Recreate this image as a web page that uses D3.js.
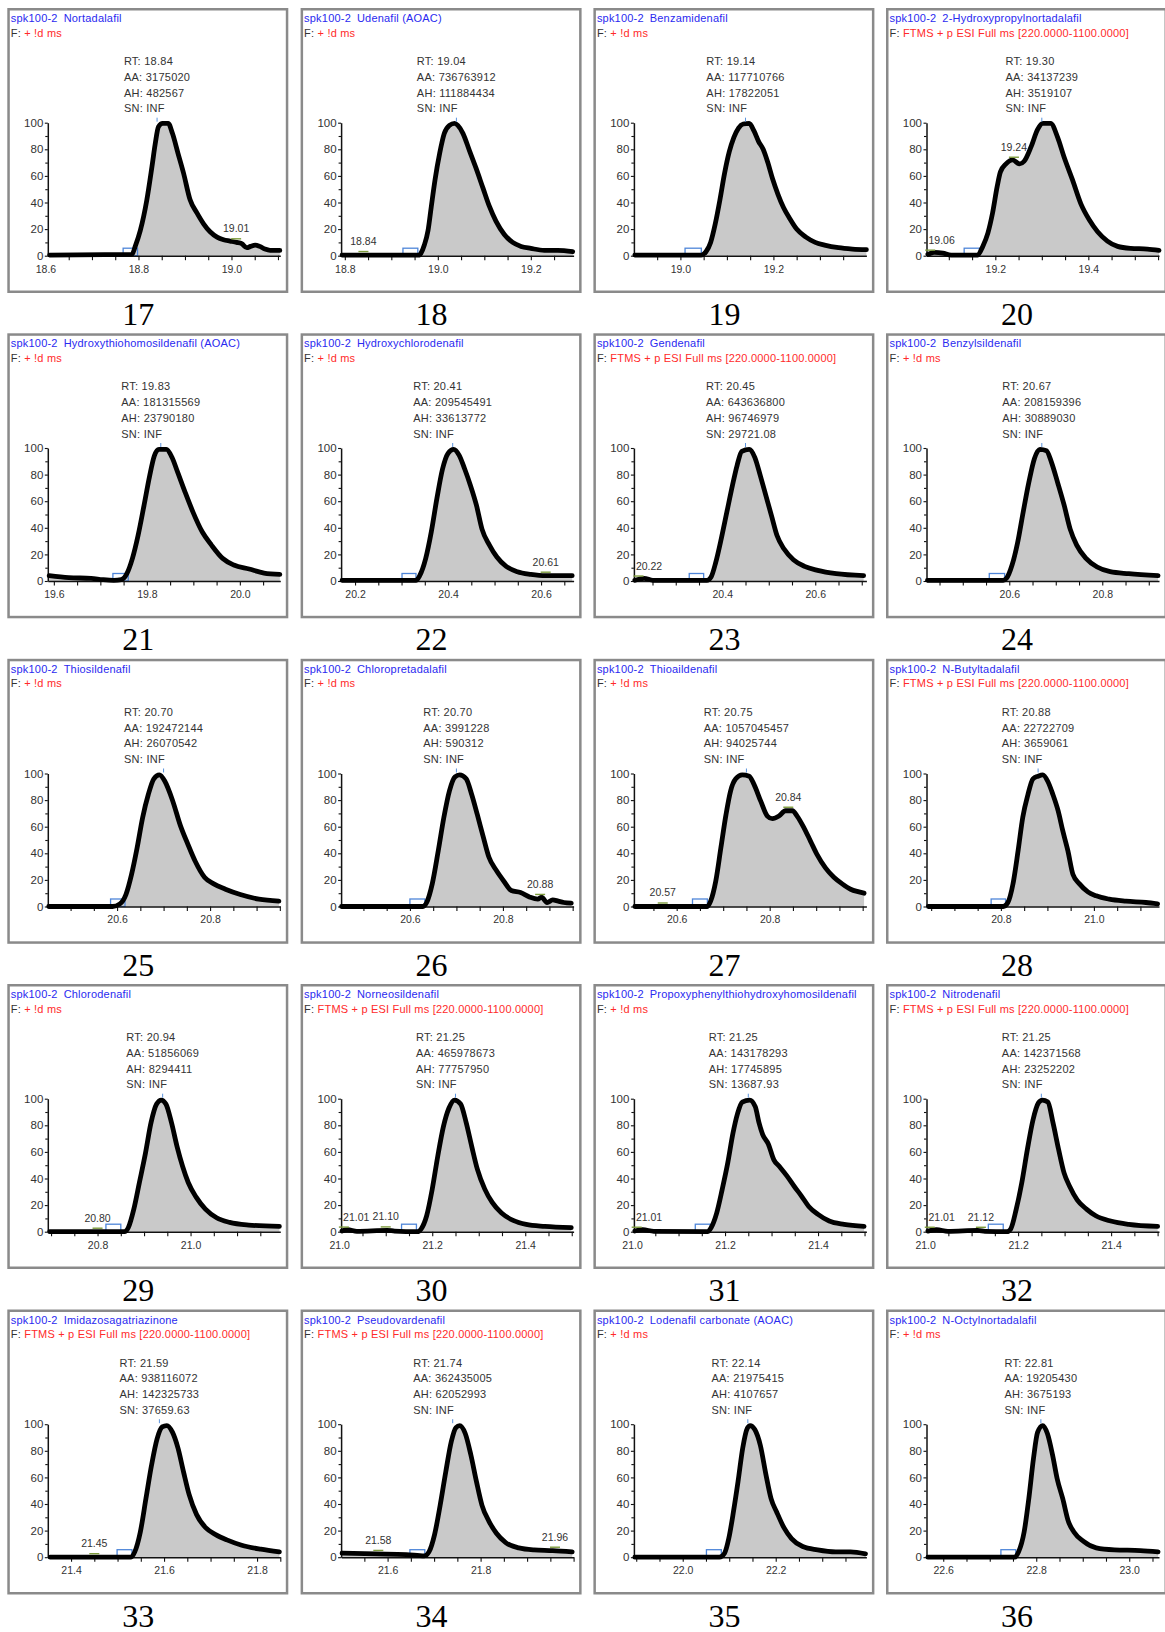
<!DOCTYPE html>
<html>
<head>
<meta charset="utf-8">
<script src="https://cdn.jsdelivr.net/npm/d3@7"></script>
<style>
  body { margin: 0; background: #fff; }
  svg { display: block; }
</style>
</head>
<body>
<svg id="chart" width="1165" height="1632"></svg>
<script>
// ---- panel metadata -------------------------------------------------------
const panelIds = [17,18,19,20,21,22,23,24,25,26,27,28,29,30,31,32,33,34,35,36];
const sampleName = "spk100-2";
const compounds = [
  "Nortadalafil", "Udenafil (AOAC)", "Benzamidenafil", "2-Hydroxypropylnortadalafil",
  "Hydroxythiohomosildenafil (AOAC)", "Hydroxychlorodenafil", "Gendenafil", "Benzylsildenafil",
  "Thiosildenafil", "Chloropretadalafil", "Thioaildenafil", "N-Butyltadalafil",
  "Chlorodenafil", "Norneosildenafil", "Propoxyphenylthiohydroxyhomosildenafil", "Nitrodenafil",
  "Imidazosagatriazinone", "Pseudovardenafil", "Lodenafil carbonate (AOAC)", "N-Octylnortadalafil"
];
const FT = "FTMS + p ESI Full ms [220.0000-1100.0000]";
const LD = "+ !d ms";
const scanFilters = [LD, LD, LD, FT, LD, LD, FT, LD, LD, LD, LD, FT, LD, FT, LD, FT, FT, FT, LD, LD];

// peak statistics
const rtValues = ["18.84","19.04","19.14","19.30","19.83","20.41","20.45","20.67","20.70","20.70",
                  "20.75","20.88","20.94","21.25","21.25","21.25","21.59","21.74","22.14","22.81"];
const aaValues = ["3175020","736763912","117710766","34137239","181315569","209545491","643636800",
                  "208159396","192472144","3991228","1057045457","22722709","51856069","465978673",
                  "143178293","142371568","938116072","362435005","21975415","19205430"];
const ahValues = ["482567","111884434","17822051","3519107","23790180","33613772","96746979",
                  "30889030","26070542","590312","94025744","3659061","8294411","77757950",
                  "17745895","23252202","142325733","62052993","4107657","3675193"];
const snValues = ["INF","INF","INF","INF","INF","INF","29721.08","INF","INF","INF",
                  "INF","INF","INF","INF","13687.93","INF","37659.63","INF","INF","INF"];

// time window start of each panel (min); every window is 0.5 min wide
const windowStart = [18.605, 18.792, 18.900, 19.052, 19.587, 20.170, 20.210, 20.422, 20.451, 20.452,
                     20.508, 20.640, 20.693, 21.004, 21.004, 21.003, 21.350, 21.500, 21.895, 22.564];
const windowSpan = 0.5;

// labelled time ticks of each panel
const timeTicks = [
  [18.6,18.8,19.0],[18.8,19.0,19.2],[19.0,19.2],[19.2,19.4],
  [19.6,19.8,20.0],[20.2,20.4,20.6],[20.4,20.6],[20.6,20.8],
  [20.6,20.8],[20.6,20.8],[20.6,20.8],[20.8,21.0],
  [20.8,21.0],[21.0,21.2,21.4],[21.0,21.2,21.4],[21.0,21.2,21.4],
  [21.4,21.6,21.8],[21.6,21.8],[22.0,22.2],[22.6,22.8,23.0]
];
const intensityTicks = [0,20,40,60,80,100];
const intensityMinor = [10,30,50,70,90];

// labelled minor peaks (retention time)
const minorPeaks = [
  [19.01],[18.84],[],[19.06,19.24],
  [],[20.61],[20.22],[],
  [],[20.88],[20.57,20.84],[],
  [20.80],[21.01,21.10],[21.01],[21.01,21.12],
  [21.45],[21.58,21.96],[],[]
];

// integration start markers (min)
const markerStart = [18.767,18.925,19.010,19.133,19.727,20.301,20.329,20.557,20.586,20.600,
                     20.634,20.779,20.818,21.134,21.136,21.136,21.499,21.648,22.051,22.724];
const markerEnd   = [18.798,18.957,19.045,19.166,19.760,20.331,20.360,20.590,20.617,20.632,
                     20.666,20.810,20.850,21.166,21.168,21.168,21.531,21.680,22.083,22.756];

// ---- chromatogram traces: time (min), relative abundance (%) pairs -------
const trace17 = [18.609,0.5, 18.786,1, 18.793,7, 18.804,19, 18.818,42, 18.829,67, 18.836,84, 18.843,97,
  18.852,99.5, 18.864,99.5, 18.873,92, 18.885,77, 18.897,62, 18.911,42, 18.926,32, 18.940,24, 18.954,18,
  18.969,14, 18.983,12, 18.997,11, 19.011,10, 19.022,9, 19.033,6, 19.041,7, 19.051,8, 19.061,7,
  19.072,5, 19.083,4, 19.097,4, 19.104,4];
const trace18 = [18.794,0.5, 18.961,0.5, 18.964,2, 18.971,8, 18.979,19, 18.986,37, 18.994,57, 19.004,77,
  19.014,92, 19.025,98, 19.036,99.5, 19.043,98, 19.054,92, 19.068,79, 19.082,66, 19.097,51, 19.111,37,
  19.125,26, 19.143,16, 19.161,10, 19.179,7, 19.200,5.5, 19.229,4, 19.258,4, 19.290,3];
const trace19 = [18.902,0.5, 19.045,0.5, 19.055,3, 19.065,10, 19.075,24, 19.085,42, 19.095,62, 19.105,78,
  19.115,89, 19.125,96, 19.135,99, 19.148,99.5, 19.158,94, 19.168,86, 19.178,80, 19.188,70, 19.198,58,
  19.210,46, 19.222,36, 19.235,28, 19.250,20, 19.270,14, 19.290,10, 19.310,8, 19.340,6, 19.370,5, 19.400,4.5];
const trace20 = [19.055,1, 19.069,2.5, 19.087,2, 19.105,0.5, 19.162,0.5, 19.173,7, 19.184,17, 19.194,32,
  19.204,52, 19.211,63, 19.223,69, 19.237,72, 19.252,69, 19.262,71, 19.277,82, 19.291,95, 19.302,99.5,
  19.319,99.5, 19.334,89, 19.348,74, 19.366,57, 19.384,39, 19.402,27, 19.420,18, 19.441,11, 19.463,7,
  19.491,5.5, 19.527,5, 19.552,4];
const trace21 = [19.590,4, 19.632,2.5, 19.680,2, 19.705,1, 19.729,0.5, 19.745,1, 19.757,5.5, 19.769,17,
  19.781,34, 19.794,57, 19.806,79, 19.816,94, 19.826,99, 19.842,99, 19.854,93, 19.866,82, 19.882,67,
  19.899,52, 19.919,37, 19.939,27, 19.963,17, 19.987,12, 20.020,9, 20.052,6, 20.086,5];
const trace22 = [20.172,0.5, 20.331,0.5, 20.339,4, 20.352,17, 20.364,37, 20.376,62, 20.388,84, 20.400,96,
  20.412,99, 20.424,94.5, 20.436,84, 20.448,72, 20.461,57, 20.473,39, 20.489,27, 20.505,18, 20.525,11,
  20.549,7, 20.578,5, 20.610,4, 20.667,4];
const trace23 = [20.212,0.5, 20.232,2, 20.251,0.5, 20.367,0.5, 20.376,3, 20.386,14, 20.398,32, 20.410,52,
  20.422,72, 20.432,87, 20.442,97.5, 20.458,99, 20.470,93, 20.482,79, 20.494,64, 20.506,49, 20.518,34,
  20.533,24, 20.553,16, 20.577,11, 20.605,8, 20.645,5.5, 20.704,4];
const trace24 = [20.424,0.5, 20.587,0.5, 20.594,2, 20.606,12, 20.618,29, 20.630,52, 20.642,74, 20.654,92,
  20.666,99, 20.680,98, 20.691,89, 20.704,74, 20.718,57, 20.731,39, 20.745,27, 20.765,17, 20.789,10.5,
  20.817,7, 20.857,5.5, 20.920,4];
const trace25 = [20.453,0, 20.590,0, 20.606,2, 20.619,9, 20.631,24, 20.643,44, 20.655,67, 20.667,84,
  20.679,96, 20.691,99, 20.703,94, 20.720,79, 20.736,61, 20.752,47, 20.768,34, 20.788,22, 20.808,17,
  20.833,13, 20.865,9, 20.905,5.5, 20.948,4];
const trace26 = [20.453,0, 20.628,0, 20.636,3, 20.648,17, 20.661,42, 20.673,67, 20.685,87, 20.697,97.5,
  20.707,99, 20.721,96, 20.733,84, 20.745,69, 20.758,52, 20.770,37, 20.786,27, 20.802,19, 20.818,12,
  20.838,10.5, 20.858,7, 20.875,5.5, 20.883,7, 20.895,3, 20.907,5, 20.919,4, 20.931,3, 20.947,2.5];
const trace27 = [20.510,0, 20.666,0, 20.673,4, 20.684,19, 20.695,44, 20.706,69, 20.716,87, 20.727,96,
  20.741,99, 20.756,98, 20.766,92, 20.781,79, 20.795,68, 20.806,66, 20.820,68, 20.834,72, 20.849,72,
  20.859,68, 20.874,59, 20.888,49, 20.902,39, 20.920,29, 20.938,22, 20.956,17, 20.974,13, 20.992,11, 21.003,10];
const trace28 = [20.644,0, 20.805,0, 20.815,3, 20.826,17, 20.837,42, 20.847,67, 20.858,84, 20.869,96,
  20.880,98, 20.890,99, 20.901,94, 20.912,84, 20.923,72, 20.933,57, 20.944,42, 20.955,24, 20.969,17,
  20.987,11, 21.005,8, 21.033,5.5, 21.069,4, 21.112,3, 21.137,2];
const trace29 = [20.697,0, 20.858,0, 20.866,3, 20.878,17, 20.890,37, 20.903,59, 20.915,82, 20.927,96,
  20.937,99, 20.947,96, 20.959,82, 20.971,64, 20.983,49, 20.995,37, 21.012,26, 21.032,17, 21.056,10.5,
  21.084,7, 21.125,5, 21.191,4];
const trace30 = [21.006,0.5, 21.018,1.5, 21.038,0.3, 21.103,1, 21.119,0.5, 21.168,0, 21.176,2, 21.188,12,
  21.200,32, 21.212,57, 21.224,79, 21.236,93, 21.248,99, 21.261,96, 21.273,82, 21.285,64, 21.297,47,
  21.313,32, 21.329,22, 21.349,14, 21.374,8.5, 21.402,5.5, 21.442,4, 21.499,3];
const trace31 = [21.006,0.5, 21.023,1.5, 21.047,0.3, 21.162,0, 21.170,3, 21.182,14, 21.194,32, 21.206,52,
  21.217,74, 21.227,89, 21.237,97.5, 21.253,99, 21.265,94, 21.273,82, 21.281,73, 21.293,66, 21.305,54,
  21.317,49, 21.333,42, 21.349,34, 21.364,27, 21.380,19, 21.400,13, 21.424,8, 21.456,5.5, 21.499,4];
const trace32 = [21.006,0.5, 21.025,1.5, 21.049,0.3, 21.113,1, 21.129,0.3, 21.176,0, 21.184,2, 21.196,17,
  21.208,37, 21.220,62, 21.232,84, 21.244,97, 21.252,99, 21.264,97.5, 21.275,82, 21.287,62, 21.299,44,
  21.311,34, 21.327,24, 21.347,17, 21.367,12, 21.399,8, 21.438,5.5, 21.500,4];
const trace33 = [21.355,0, 21.529,0, 21.537,4, 21.549,19, 21.561,44, 21.573,69, 21.585,89, 21.596,98,
  21.606,99, 21.618,94, 21.630,82, 21.642,64, 21.654,47, 21.670,32, 21.690,22, 21.711,17, 21.735,13,
  21.767,9, 21.808,6, 21.848,4];
const trace34 = [21.502,3, 21.575,2.5, 21.640,2, 21.679,1, 21.689,4, 21.701,17, 21.713,39, 21.725,64,
  21.737,87, 21.747,97.5, 21.755,99, 21.767,93, 21.779,77, 21.791,57, 21.803,39, 21.818,27, 21.834,18,
  21.854,11, 21.882,7, 21.915,5.5, 21.955,5, 21.997,4];
const trace35 = [21.897,0, 22.079,0, 22.090,3, 22.099,14, 22.109,34, 22.119,57, 22.129,82, 22.139,97,
  22.145,99, 22.155,96, 22.167,84, 22.179,62, 22.190,44, 22.202,34, 22.218,22, 22.234,14, 22.258,8,
  22.290,5.5, 22.329,4, 22.361,4, 22.393,2.5];
const trace36 = [22.567,0, 22.754,0, 22.762,4, 22.774,19, 22.784,44, 22.794,74, 22.803,94, 22.814,99,
  22.824,93, 22.835,77, 22.845,59, 22.857,44, 22.869,27, 22.881,19, 22.901,12, 22.929,7, 22.968,5.5,
  23.024,5, 23.062,4];

const traces = [trace17, trace18, trace19, trace20, trace21, trace22, trace23, trace24, trace25, trace26,
                trace27, trace28, trace29, trace30, trace31, trace32, trace33, trace34, trace35, trace36];

// ---- layout ---------------------------------------------------------------
const colLeft = [7.3, 300.6, 593.4, 886];
const rowTop  = [8, 333.3, 658.8, 984, 1309.5];
const PW = 281, PH = 285;
const AX = 40.5, AR = 273, Y0 = 247.7, Y100 = 114.7;
const SANS = "'Liberation Sans', Arial, sans-serif";
const SERIF = "'Liberation Serif', 'Times New Roman', serif";

const svg = d3.select("#chart");

function pairs(flat) {
  const out = [];
  for (let k = 0; k < flat.length; k += 2) out.push({t: flat[k], v: flat[k + 1]});
  return out;
}
function valueAt(pts, t) {
  if (t <= pts[0].t) return pts[0].v;
  for (let k = 1; k < pts.length; k++) {
    if (t <= pts[k].t) {
      const a = pts[k - 1], b = pts[k];
      return a.v + (b.v - a.v) * (t - a.t) / (b.t - a.t);
    }
  }
  return pts[pts.length - 1].v;
}

panelIds.forEach((id, i) => {
  const g = svg.append("g")
    .attr("transform", `translate(${colLeft[i % 4]},${rowTop[Math.floor(i / 4)]})`);

  // frame
  g.append("rect")
    .attr("x", 1.25).attr("y", 1.25)
    .attr("width", PW - 2.5).attr("height", PH - 2.5)
    .attr("fill", "#fff").attr("stroke", "#8a8a8a").attr("stroke-width", 2.5);

  // header lines
  const t1 = g.append("text").attr("x", 3.5).attr("y", 14)
    .attr("font-family", SANS).attr("font-size", 11).attr("fill", "#2a2af0")
    .attr("letter-spacing", 0.2);
  t1.append("tspan").text(sampleName);
  t1.append("tspan").attr("dx", 6).text(compounds[i]);

  const t2 = g.append("text").attr("x", 3.5).attr("y", 28.5)
    .attr("font-family", SANS).attr("font-size", 11).attr("letter-spacing", 0.2);
  t2.append("tspan").attr("fill", "#333").text("F: ");
  t2.append("tspan").attr("fill", "#ff2a2a").text(scanFilters[i]);

  // scales
  const x = d3.scaleLinear().domain([windowStart[i], windowStart[i] + windowSpan]).range([AX, AR]);
  const y = d3.scaleLinear().domain([0, 100]).range([Y0, Y100]);
  const pts = pairs(traces[i]);

  // filled trace
  const area = d3.area().curve(d3.curveMonotoneX)
    .x(d => x(d.t)).y0(y(0)).y1(d => y(d.v));
  g.append("path").datum(pts).attr("d", area).attr("fill", "#c9c9c9");

  // integration start marker
  g.append("rect")
    .attr("x", x(markerStart[i])).attr("y", y(0) - 7.5)
    .attr("width", x(markerEnd[i]) - x(markerStart[i])).attr("height", 7.5)
    .attr("fill", "none").attr("stroke", "#4f86d9").attr("stroke-width", 1.3);

  // axes
  const yAxis = d3.axisLeft(y).tickValues(intensityTicks).tickSize(3).tickSizeOuter(0).tickPadding(1.5);
  const yMinor = d3.axisLeft(y).tickValues(intensityMinor).tickSize(2.5).tickSizeOuter(0).tickFormat("");
  const gy = g.append("g").attr("transform", `translate(${AX},0)`).call(yAxis);
  g.append("g").attr("transform", `translate(${AX},0)`).call(yMinor).select(".domain").remove();

  const lo = Math.ceil((windowStart[i] + 1e-6) / 0.05), hi = Math.floor((windowStart[i] + windowSpan) / 0.05);
  const minorTimes = d3.range(lo, hi + 1).map(k => +(k * 0.05).toFixed(2));
  const xMinor = d3.axisBottom(x).tickValues(minorTimes).tickSize(4.5).tickSizeOuter(0).tickFormat("");
  const xAxis = d3.axisBottom(x).tickValues(timeTicks[i]).tickSize(0).tickSizeOuter(0)
    .tickPadding(9.5).tickFormat(d3.format(".1f"));
  g.append("g").attr("transform", `translate(0,${Y0})`).call(xMinor);
  const gx = g.append("g").attr("transform", `translate(0,${Y0})`).call(xAxis);
  gx.select(".domain").remove();

  g.selectAll(".domain").attr("stroke", "#111").attr("stroke-width", 1.5);
  g.selectAll(".tick line").attr("stroke", "#111").attr("stroke-width", 1.1);
  gy.selectAll("text").attr("font-family", SANS).attr("font-size", 11.5).attr("fill", "#333");
  gx.selectAll("text").attr("font-family", SANS).attr("font-size", 10.5).attr("fill", "#333");

  // trace outline
  const line = d3.line().curve(d3.curveMonotoneX).x(d => x(d.t)).y(d => y(d.v));
  g.append("path").datum(pts).attr("d", line)
    .attr("fill", "none").attr("stroke", "#000").attr("stroke-width", 4.8)
    .attr("stroke-linejoin", "round").attr("stroke-linecap", "round");

  // apex marker
  const rt = +rtValues[i];
  g.append("line").attr("x1", x(rt)).attr("x2", x(rt)).attr("y1", Y100 - 5).attr("y2", Y100 - 1)
    .attr("stroke", "#5b93dd").attr("stroke-width", 1);

  // peak statistics block, centred over the apex
  const statLines = ["RT: " + rtValues[i], "AA: " + aaValues[i], "AH: " + ahValues[i], "SN: " + snValues[i]];
  const stats = g.append("g");
  const st = stats.selectAll("text").data(statLines).join("text")
    .attr("y", (d, k) => 57 + k * 15.8)
    .attr("font-family", SANS).attr("font-size", 11).attr("letter-spacing", 0.25)
    .attr("fill", "#333").text(d => d);
  let w = 0;
  st.each(function () { w = Math.max(w, this.getComputedTextLength()); });
  st.attr("x", x(rt) - w / 2);

  // minor peak labels
  minorPeaks[i].forEach(mt => {
    const v = valueAt(pts, mt);
    const yy = y(v);
    g.append("line").attr("x1", x(mt) - 5).attr("x2", x(mt) + 5)
      .attr("y1", yy - 3.5).attr("y2", yy - 3.5)
      .attr("stroke", "#7d9b3c").attr("stroke-width", 1.4);
    const lab = g.append("text").attr("y", yy - 10)
      .attr("font-family", SANS).attr("font-size", 10.5).attr("fill", "#333")
      .attr("text-anchor", "middle").text(mt.toFixed(2));
    const hw = lab.node().getComputedTextLength() / 2;
    const cx = Math.max(AX + hw + 2, Math.min(AR - hw, x(mt)));
    lab.attr("x", cx);
  });

  // panel number
  g.append("text").attr("x", 131).attr("y", 317).attr("text-anchor", "middle")
    .attr("font-family", SERIF).attr("font-size", 32).attr("fill", "#000").text(id);
});
</script>
</body>
</html>
